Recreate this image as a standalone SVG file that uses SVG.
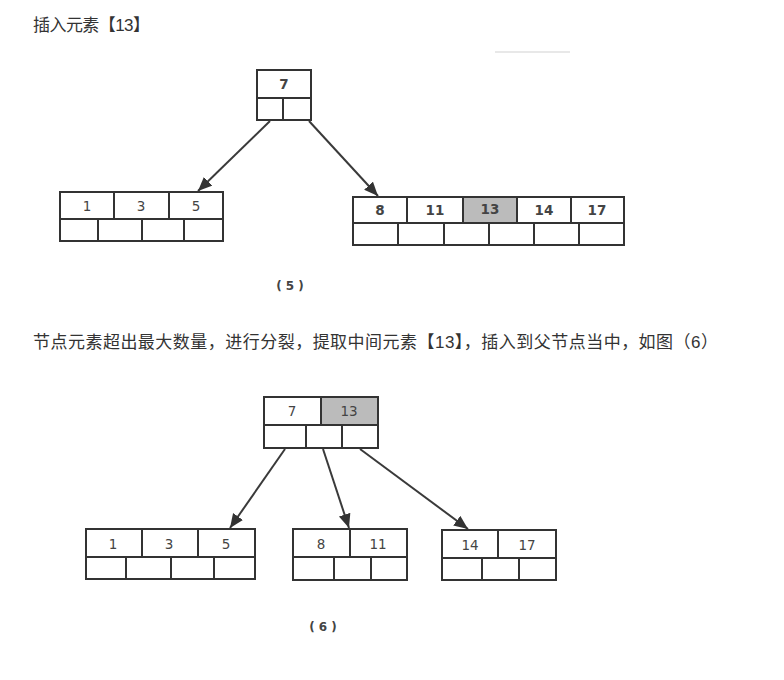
<svg xmlns="http://www.w3.org/2000/svg" width="784" height="680" viewBox="0 0 784 680">
<style>
.cap{font-family:"Liberation Sans","Noto Sans CJK SC",sans-serif;font-size:17px;fill:#333}
.c{fill:#fff;stroke:#333;stroke-width:2}
.s{fill:#bbb;stroke:#333;stroke-width:2}
.t{font-family:"DejaVu Sans","Liberation Sans",sans-serif;font-size:13.5px;fill:#444;text-anchor:middle}
.b{font-weight:bold}
.lbl{font-family:"DejaVu Sans","Liberation Sans",sans-serif;font-size:12px;font-weight:bold;fill:#444;text-anchor:middle}
.e{stroke:#3a3a3a;stroke-width:2;fill:none;marker-end:url(#ah)}
</style>
<defs>
<marker id="ah" markerUnits="userSpaceOnUse" markerWidth="16" markerHeight="14" refX="14" refY="6" orient="auto">
<path d="M0,0 L14,6 L0,12 Z" fill="#333"/>
</marker>
</defs>
<rect width="784" height="680" fill="#fff"/>
<text class="cap" x="33" y="31" textLength="117" lengthAdjust="spacing">插入元素【13】</text>
<line x1="495" y1="52" x2="570" y2="52" stroke="#e8e8e8" stroke-width="2"/>
<g id="connectors5">
<line class="e" x1="270" y1="121" x2="198" y2="191"/>
<line class="e" x1="309" y1="121" x2="378" y2="196"/>
</g>
<g id="n5root">
<rect class="c" x="257" y="70" width="54" height="28"/>
<rect class="c" x="257" y="98" width="26" height="22"/>
<rect class="c" x="283" y="98" width="28" height="22"/>
<text class="t b" x="284" y="89">7</text>
</g>
<g id="n5left">
<rect class="c" x="60" y="192" width="54" height="27"/>
<rect class="c" x="114" y="192" width="55" height="27"/>
<rect class="c" x="169" y="192" width="54" height="27"/>
<rect class="c" x="60" y="219" width="38" height="22"/>
<rect class="c" x="98" y="219" width="44" height="22"/>
<rect class="c" x="142" y="219" width="42" height="22"/>
<rect class="c" x="184" y="219" width="39" height="22"/>
<text class="t" x="87" y="211">1</text>
<text class="t" x="141" y="211">3</text>
<text class="t" x="196" y="211">5</text>
</g>
<g id="n5right">
<rect class="c" x="353" y="197" width="54" height="26"/>
<rect class="c" x="407" y="197" width="56" height="26"/>
<rect class="s" x="463" y="197" width="54" height="26"/>
<rect class="c" x="517" y="197" width="54" height="26"/>
<rect class="c" x="571" y="197" width="53" height="26"/>
<rect class="c" x="353" y="223" width="45" height="22"/>
<rect class="c" x="398" y="223" width="46" height="22"/>
<rect class="c" x="444" y="223" width="45" height="22"/>
<rect class="c" x="489" y="223" width="45" height="22"/>
<rect class="c" x="534" y="223" width="45" height="22"/>
<rect class="c" x="579" y="223" width="45" height="22"/>
<text class="t b" x="380" y="215">8</text>
<text class="t b" x="435" y="215">11</text>
<text class="t b" x="490" y="214">13</text>
<text class="t b" x="544" y="215">14</text>
<text class="t b" x="597" y="215">17</text>
</g>
<text class="lbl" x="290" y="290">( 5 )</text>
<text class="cap" x="33" y="348" textLength="685" lengthAdjust="spacing">节点元素超出最大数量，进行分裂，提取中间元素【13】，插入到父节点当中，如图（6）</text>
<g id="connectors6">
<line class="e" x1="285" y1="449" x2="230" y2="528"/>
<line class="e" x1="323" y1="449" x2="349" y2="528"/>
<line class="e" x1="360" y1="449" x2="468" y2="529"/>
</g>
<g id="n6root">
<rect class="c" x="264" y="397" width="57" height="28"/>
<rect class="s" x="321" y="397" width="57" height="28"/>
<rect class="c" x="264" y="425" width="42" height="23"/>
<rect class="c" x="306" y="425" width="36" height="23"/>
<rect class="c" x="342" y="425" width="36" height="23"/>
<text class="t" x="292" y="416">7</text>
<text class="t" x="349" y="416">13</text>
</g>
<g id="n6left">
<rect class="c" x="86" y="529" width="56" height="28"/>
<rect class="c" x="142" y="529" width="56" height="28"/>
<rect class="c" x="198" y="529" width="57" height="28"/>
<rect class="c" x="86" y="557" width="40" height="22"/>
<rect class="c" x="126" y="557" width="45" height="22"/>
<rect class="c" x="171" y="557" width="43" height="22"/>
<rect class="c" x="214" y="557" width="41" height="22"/>
<text class="t" x="113" y="549">1</text>
<text class="t" x="169" y="549">3</text>
<text class="t" x="226" y="549">5</text>
</g>
<g id="n6mid">
<rect class="c" x="293" y="529" width="57" height="28"/>
<rect class="c" x="350" y="529" width="57" height="28"/>
<rect class="c" x="293" y="557" width="41" height="23"/>
<rect class="c" x="334" y="557" width="37" height="23"/>
<rect class="c" x="371" y="557" width="36" height="23"/>
<text class="t" x="321" y="549">8</text>
<text class="t" x="378" y="549">11</text>
</g>
<g id="n6right">
<rect class="c" x="442" y="530" width="56" height="28"/>
<rect class="c" x="498" y="530" width="58" height="28"/>
<rect class="c" x="442" y="558" width="40" height="22"/>
<rect class="c" x="482" y="558" width="37" height="22"/>
<rect class="c" x="519" y="558" width="37" height="22"/>
<text class="t" x="470" y="550">14</text>
<text class="t" x="527" y="550">17</text>
</g>
<text class="lbl" x="323" y="631">( 6 )</text>
</svg>
